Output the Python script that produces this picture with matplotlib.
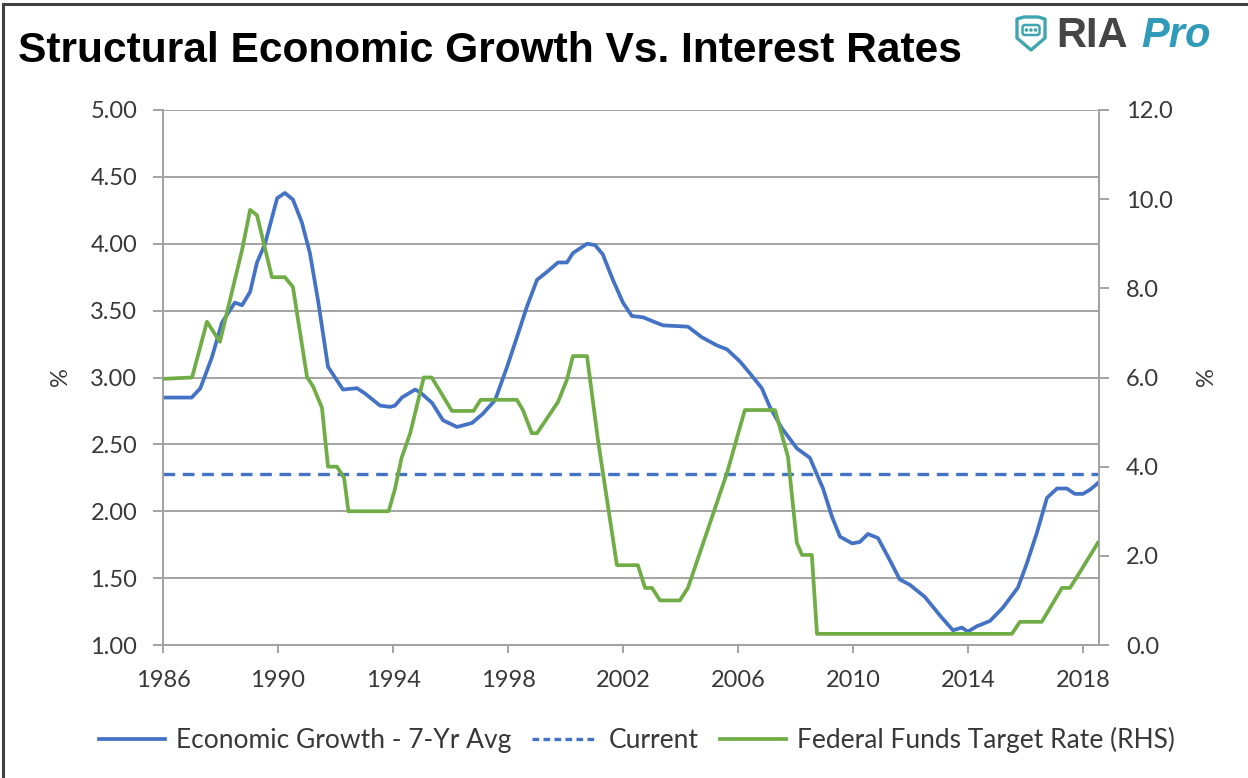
import matplotlib
matplotlib.use('Agg')
import matplotlib.pyplot as plt
from matplotlib import font_manager
from matplotlib.patches import Polygon, FancyBboxPatch, Circle
from matplotlib.lines import Line2D

# ---------------- data ----------------
growth_years = [1986.0, 1987.0, 1987.3, 1987.7, 1988.05, 1988.5, 1988.75, 1989.03, 1989.27,
                1989.55, 1989.97, 1990.24, 1990.52, 1990.83, 1991.11, 1991.39, 1991.74,
                1992.26, 1992.75, 1993.03, 1993.55, 1993.9, 1994.07, 1994.31, 1994.77,
                1994.94, 1995.36, 1995.74, 1996.23, 1996.75, 1997.13, 1997.55, 1997.97,
                1998.31, 1998.66, 1999.01, 1999.36, 1999.74, 2000.05, 2000.26, 2000.75,
                2001.03, 2001.3, 2001.65, 2002.0, 2002.31, 2002.7, 2003.04, 2003.39,
                2004.26, 2004.75, 2005.27, 2005.62, 2006.07, 2006.42, 2006.83, 2007.11,
                2007.53, 2008.05, 2008.5, 2008.96, 2009.27, 2009.55, 2009.97, 2010.24,
                2010.52, 2010.87, 2011.22, 2011.63, 2011.98, 2012.5, 2013.03, 2013.48,
                2013.79, 2014.0, 2014.31, 2014.77, 2015.22, 2015.74, 2016.05, 2016.4,
                2016.75, 2017.1, 2017.44, 2017.72, 2018.0, 2018.24, 2018.52]
growth_values = [2.85, 2.85, 2.92, 3.15, 3.41, 3.56, 3.54, 3.64, 3.86,
                 4.00, 4.34, 4.38, 4.33, 4.16, 3.93, 3.58, 3.08,
                 2.91, 2.92, 2.88, 2.79, 2.78, 2.79, 2.85, 2.91,
                 2.89, 2.81, 2.68, 2.63, 2.66, 2.73, 2.83, 3.08,
                 3.30, 3.53, 3.73, 3.79, 3.86, 3.86, 3.93, 4.00,
                 3.99, 3.92, 3.73, 3.56, 3.46, 3.45, 3.42, 3.39,
                 3.38, 3.30, 3.24, 3.21, 3.12, 3.03, 2.92, 2.78,
                 2.62, 2.47, 2.40, 2.17, 1.96, 1.81, 1.76, 1.77,
                 1.83, 1.80, 1.66, 1.49, 1.45, 1.36, 1.22, 1.11,
                 1.13, 1.10, 1.14, 1.18, 1.28, 1.43, 1.61, 1.84,
                 2.10, 2.17, 2.17, 2.13, 2.13, 2.16, 2.21]

fed_years = [1986.0, 1987.01, 1987.53, 1987.98, 1988.33, 1988.75, 1989.03, 1989.27,
             1989.79, 1990.24, 1990.52, 1991.01, 1991.22, 1991.53, 1991.74, 1992.05,
             1992.3, 1992.45, 1993.85, 1994.07, 1994.3, 1994.6, 1995.07, 1995.35,
             1996.05, 1996.8, 1997.05, 1998.31, 1998.52, 1998.83, 1999.01, 1999.74,
             2000.05, 2000.26, 2000.75, 2001.13, 2001.79, 2002.52, 2002.77, 2003.01,
             2003.29, 2003.98, 2004.26, 2005.03, 2005.62, 2006.24, 2007.29, 2007.74,
             2008.05, 2008.23, 2008.57, 2008.75, 2015.53, 2015.81, 2016.57, 2017.27,
             2017.55, 2017.9, 2018.52]
fed_values = [5.97, 6.00, 7.25, 6.80, 7.74, 8.86, 9.76, 9.64,
              8.25, 8.25, 8.03, 6.01, 5.80, 5.32, 4.00, 4.00,
              3.75, 3.00, 3.00, 3.50, 4.20, 4.75, 6.00, 6.00,
              5.25, 5.25, 5.50, 5.50, 5.27, 4.75, 4.75, 5.45,
              5.95, 6.48, 6.48, 4.60, 1.79, 1.79, 1.28, 1.28,
              1.00, 1.00, 1.28, 2.74, 3.86, 5.27, 5.27, 4.22,
              2.29, 2.02, 2.02, 0.25, 0.25, 0.52, 0.52, 1.28,
              1.28, 1.64, 2.29]

current_value = 2.28

x_ticks = [1986, 1990, 1994, 1998, 2002, 2006, 2010, 2014, 2018]
left_ticks = [1.0, 1.5, 2.0, 2.5, 3.0, 3.5, 4.0, 4.5, 5.0]
right_ticks = [0, 2, 4, 6, 8, 10, 12]

title_text = "Structural Economic Growth Vs. Interest Rates"
legend_labels = ["Economic Growth - 7-Yr Avg", "Current", "Federal Funds Target Rate (RHS)"]

# ---------------- style ----------------
BLUE = '#4472C4'
GREEN = '#70AD47'
GRID = '#A3A3A3'
TXT = '#383838'
installed = {f.name for f in font_manager.fontManager.ttflist}
body_font = 'Lato' if 'Lato' in installed else 'DejaVu Sans'
title_fams = [f for f in ['Liberation Sans Narrow', 'Liberation Sans', 'DejaVu Sans'] if f in installed]
logo_font = 'Liberation Sans' if 'Liberation Sans' in installed else 'DejaVu Sans'

W, H = 1248, 778
fig = plt.figure(figsize=(W / 100, H / 100), dpi=100)
fig.patch.set_facecolor('white')

def fx(px):
    return px / W

def fy(py):
    return 1 - py / H

ax = fig.add_axes([fx(163), fy(645), (1099 - 163) / W, (645 - 110) / H])
ax2 = ax.twinx()

ax.set_xlim(1986, 2018.56)
ax.set_ylim(1.0, 5.0)
ax2.set_ylim(0, 12)

ax.set_yticks(left_ticks)
ax.set_yticklabels([f"{v:.2f}" for v in left_ticks])
ax2.set_yticks(right_ticks)
ax2.set_yticklabels([f"{v:.1f}" for v in right_ticks])
ax.set_xticks(x_ticks)
ax.set_xticklabels([str(v) for v in x_ticks])

ax.yaxis.grid(True, color=GRID, lw=1.4)
ax.set_axisbelow(True)

for a in (ax, ax2):
    a.spines['top'].set_visible(False)
    for s in ('left', 'right', 'bottom'):
        a.spines[s].set_color(GRID)
        a.spines[s].set_linewidth(1.4)

ax.tick_params(axis='y', length=7.5, width=1.4, color=GRID, pad=11,
               labelsize=17, labelcolor=TXT)
ax.tick_params(axis='x', length=6, width=1.4, color=GRID, pad=12,
               labelsize=17, labelcolor=TXT)
ax2.tick_params(axis='y', length=7.5, width=1.4, color=GRID, pad=12,
                labelsize=17, labelcolor=TXT)
for lab in ax.get_xticklabels() + ax.get_yticklabels() + ax2.get_yticklabels():
    lab.set_fontfamily(body_font)

ax.axhline(current_value, color=BLUE, lw=2.4, dashes=(3.5, 2.3), zorder=3)
ax.plot(growth_years, growth_values, color=BLUE, lw=2.7, zorder=4,
        solid_joinstyle='round')
ax2.plot(fed_years, fed_values, color=GREEN, lw=2.7, zorder=4,
         solid_joinstyle='round')

# axis labels "%"
fig.text(fx(60), fy(377), '%', rotation=90, ha='center', va='center',
         fontsize=17, color=TXT, family=body_font)
fig.text(fx(1207), fy(377), '%', rotation=90, ha='center', va='center',
         fontsize=17, color=TXT, family=body_font)

# title
t = fig.text(fx(18), fy(62), title_text, ha='left', va='baseline',
             fontsize=30, fontweight='bold', color='black', family=title_fams)
fig.canvas.draw()
bb = t.get_window_extent()
t.set_fontsize(30 * 944 / bb.width)

# legend
handles = [Line2D([], [], color=BLUE, lw=2.7),
           Line2D([], [], color=BLUE, lw=2.4, dashes=(2.0, 1.3)),
           Line2D([], [], color=GREEN, lw=2.7)]
leg = fig.legend(handles, legend_labels, loc='center', bbox_to_anchor=(fx(637), fy(740)),
                 ncol=3, frameon=False, handlelength=2.5, handletextpad=0.4,
                 columnspacing=0.8, prop={'family': body_font, 'size': 19})
for tx in leg.get_texts():
    tx.set_color(TXT)

# frame border (top and left)
fig.add_artist(Line2D([fx(3), 1.0], [fy(4), fy(4)], color='#404040', lw=2.2))
fig.add_artist(Line2D([fx(3), fx(3)], [fy(4), 0.0], color='#404040', lw=2.2))

# logo
lax = fig.add_axes([fx(1010), fy(56), (1230 - 1010) / W, (56 - 12) / H])
lax.set_xlim(1010, 1230)
lax.set_ylim(56, 12)
lax.axis('off')
shield = [(1017, 19), (1024, 17), (1031, 17), (1038, 17), (1045, 19),
          (1045, 38), (1031, 50), (1017, 38)]
lax.add_patch(Polygon(shield, closed=True, fill=False, ec='#3FA6B0', lw=2.4,
                      joinstyle='round'))
lax.add_patch(FancyBboxPatch((1022.5, 25), 17, 10, boxstyle='round,pad=0,rounding_size=2.5',
                             fill=False, ec='#3FA6B0', lw=1.8))
for cx in (1026.5, 1031, 1035.5):
    lax.add_patch(Circle((cx, 30), 1.1, color='#3FA6B0'))
lax.text(1056, 47, 'RIA', ha='left', va='baseline', fontsize=30, color='#454545',
         fontweight='bold', family=logo_font)
lax.text(1141, 47, 'Pro', ha='left', va='baseline', fontsize=30, color='#2F9BB8',
         fontweight='bold', fontstyle='italic', family=logo_font)

fig.savefig('out.png', dpi=100, facecolor='white')
